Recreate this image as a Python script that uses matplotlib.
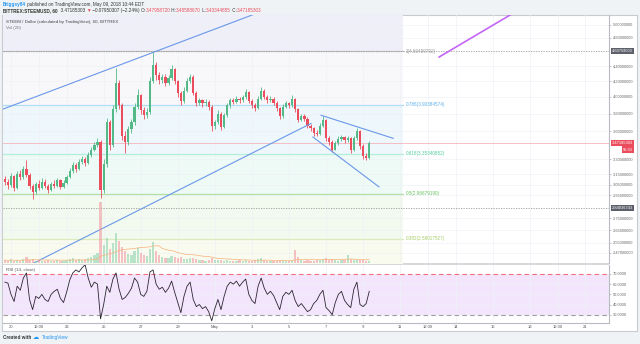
import numpy as np
import pandas as pd
import matplotlib
matplotlib.use("Agg")
import matplotlib.pyplot as plt
import matplotlib.dates as mdates
import matplotlib.transforms as mtransforms
from matplotlib.patches import Rectangle
from matplotlib.ticker import FixedLocator, FuncFormatter, NullLocator

plt.rcParams['font.family'] = ['Liberation Sans', 'DejaVu Sans']

start = '2018-04-19 16:00'
first_open = 3.10
closes = [3.08, 3.05, 3.13, 3.02, 3.15, 3.12, 3.20, 3.14, 3.04, 2.98,
          3.06, 3.02, 3.08, 3.04, 3.00, 3.06, 3.04, 3.09, 3.03, 3.07,
          3.12, 3.18, 3.24, 3.20, 3.27, 3.30, 3.26, 3.34, 3.40, 3.45,
          3.48, 3.00, 3.25, 3.70, 3.45, 3.85, 4.18, 3.90, 3.55, 3.48,
          3.62, 3.70, 3.88, 4.02, 3.84, 3.78, 3.82, 4.20, 4.42, 4.28,
          4.22, 4.26, 4.18, 4.24, 4.36, 4.20, 4.05, 3.95, 4.08, 4.20,
          4.26, 4.05, 3.93, 3.96, 3.92, 3.94, 3.88, 3.66, 3.70, 3.80,
          3.64, 3.78, 3.90, 3.96, 3.94, 3.98, 3.96, 4.00, 4.06, 3.95,
          3.90, 3.87, 3.98, 4.08, 4.00, 3.96, 3.98, 3.93, 3.86, 3.77,
          3.88, 3.92, 3.90, 3.97, 3.85, 3.73, 3.77, 3.74, 3.66, 3.63,
          3.58, 3.57, 3.66, 3.73, 3.52, 3.48, 3.40, 3.47, 3.51, 3.53,
          3.50, 3.52, 3.39, 3.52, 3.60, 3.44, 3.33, 3.31, 3.47185303]
highs = [3.13, 3.10, 3.16, 3.14, 3.18, 3.19, 3.23, 3.29, 3.16, 3.06,
         3.08, 3.09, 3.11, 3.10, 3.06, 3.08, 3.09, 3.11, 3.10, 3.09,
         3.14, 3.21, 3.27, 3.26, 3.30, 3.33, 3.32, 3.37, 3.43, 3.48,
         3.52, 3.50, 3.30, 3.75, 3.72, 3.90, 4.38, 4.22, 3.93, 3.60,
         3.66, 3.74, 3.92, 4.10, 4.04, 3.88, 3.86, 4.25, 4.60, 4.46,
         4.32, 4.30, 4.29, 4.28, 4.42, 4.38, 4.22, 4.08, 4.12, 4.24,
         4.30, 4.28, 4.07, 3.99, 3.98, 3.97, 3.96, 3.90, 3.73, 3.84,
         3.82, 3.81, 3.93, 3.99, 3.99, 4.01, 4.00, 4.03, 4.10, 4.07,
         3.97, 3.92, 4.01, 4.12, 4.10, 4.02, 4.01, 4.00, 3.95, 3.88,
         3.91, 3.95, 3.94, 4.02, 3.99, 3.87, 3.80, 3.79, 3.76, 3.68,
         3.65, 3.61, 3.69, 3.77, 3.74, 3.54, 3.50, 3.49, 3.54, 3.56,
         3.55, 3.55, 3.53, 3.55, 3.63, 3.61, 3.46, 3.36, 3.49]
lows = [3.05, 3.01, 3.03, 2.99, 3.01, 3.09, 3.10, 3.12, 3.01, 2.92,
        2.96, 3.00, 3.01, 3.02, 2.97, 2.99, 3.02, 3.03, 3.01, 3.02,
        3.06, 3.11, 3.16, 3.17, 3.19, 3.25, 3.23, 3.25, 3.32, 3.38,
        3.43, 2.93, 2.97, 3.22, 3.40, 3.43, 3.82, 3.85, 3.50, 3.36,
        3.45, 3.58, 3.67, 3.85, 3.80, 3.74, 3.75, 3.80, 4.17, 4.22,
        4.16, 4.18, 4.14, 4.15, 4.22, 4.16, 4.00, 3.90, 3.93, 4.06,
        4.17, 4.02, 3.89, 3.90, 3.88, 3.89, 3.84, 3.60, 3.62, 3.68,
        3.61, 3.63, 3.76, 3.87, 3.91, 3.92, 3.93, 3.94, 3.98, 3.92,
        3.87, 3.83, 3.85, 3.96, 3.97, 3.93, 3.94, 3.90, 3.83, 3.74,
        3.75, 3.86, 3.87, 3.88, 3.82, 3.70, 3.71, 3.71, 3.63, 3.60,
        3.55, 3.54, 3.56, 3.64, 3.49, 3.45, 3.37, 3.39, 3.45, 3.49,
        3.47, 3.48, 3.36, 3.38, 3.50, 3.41, 3.30, 3.29, 3.30]
volumes = [3, 2, 4, 2, 3, 2, 4, 6, 3, 4,
           2, 3, 2, 2, 3, 2, 2, 3, 2, 2,
           3, 4, 5, 3, 4, 3, 4, 5, 6, 8,
           10, 61, 18, 25, 14, 20, 30, 22, 16, 12,
           9, 8, 12, 15, 10, 8, 7, 14, 21, 12,
           8, 6, 5, 5, 7, 6, 5, 6, 4, 4,
           5, 5, 4, 3, 3, 2, 3, 5, 3, 3,
           3, 2, 3, 2, 2, 2, 3, 2, 3, 2,
           2, 3, 4, 5, 3, 2, 2, 2, 2, 3,
           2, 2, 2, 3, 13, 6, 3, 2, 3, 2,
           2, 3, 3, 4, 5, 3, 4, 3, 2, 3,
           3, 8, 4, 3, 3, 3, 3, 2, 2]
rsi = [62, 61, 50, 43, 58, 54, 66, 71, 45, 35,
       48, 46, 50, 45, 43, 50, 53, 55, 46, 42,
       52, 64, 71, 74, 72, 76, 79, 66, 57, 62,
       60, 26, 40, 58, 52, 65, 71, 55, 45, 47,
       51, 56, 66, 62, 50, 48, 53, 72, 74, 60,
       55, 57, 52, 56, 63, 52, 42, 32, 48, 58,
       62, 45, 38, 40, 36, 38, 33, 24, 36, 45,
       35, 48, 58, 62, 60, 63, 58, 62, 65, 50,
       44, 41, 58, 66, 56, 50, 53, 49, 42, 35,
       48, 52, 50, 54, 44, 38, 41, 37, 33, 35,
       41, 44, 50, 54, 37, 34, 30, 42, 50, 53,
       44, 40, 37, 55, 62, 40, 38, 41, 53]

# header values
last_price = 3.47185303
change = -0.07950307
change_pct = -2.24
ohlc = [3.47958720, 3.48588670, 3.43344855, 3.47185303]

# fibonacci retracement
fib_ratios = ['1.618', '1', '0.786', '0.618', '0.5', '0.382', '0.236']
fib_prices = [6.62982056, 4.60499792, 3.90384574, 3.35340852, 2.96679190, 2.58017527, 2.10181912]
fib_fills = ['#efeff9', '#f8f8fa', '#eef7fc', '#eefaf6', '#f2f9ef', '#f9fbef']
fib_lines = ['#9090e0', '#c4c4c4', '#b3ddf7', '#b2eed8', '#b0e2a6', '#dbebbb', '#f0a0a0']
fib_text = ['#7070d0', '#9a9a9a', '#5cb0ea', '#4fcf9f', '#66c45e', '#a6cd66', '#e07070']
fib_end = '2018-05-11 03:30'

# drawn trend lines: (start date, start price, end date, end price)
trend_lines = [
    ('2018-04-19 13:00', 3.85, '2018-05-03 02:00', 5.16),
    ('2018-04-21 04:00', 2.39, '2018-05-06 04:30', 3.685),
    ('2018-05-06 17:30', 3.78, '2018-05-10 15:00', 3.52),
    ('2018-05-06 07:00', 3.534, '2018-05-09 20:30', 3.03),
]
purple_line = ('2018-05-13 02:30', 4.525, '2018-05-16 23:30', 5.16)

hlines = [4.60759503, 2.84036743]

price_ticks = [5.0, 4.8, 4.4, 4.2, 4.0, 3.8, 3.6, 3.3, 3.15, 3.05, 2.95, 2.75, 2.65, 2.55, 2.47]
rsi_ticks = [70, 60, 50, 40, 30]
tick_dates = ['2018-04-20 00:00', '2018-04-21 12:00', '2018-04-23 00:00', '2018-04-25 00:00',
              '2018-04-27 00:00', '2018-04-29 00:00', '2018-05-01 00:00', '2018-05-03 00:00',
              '2018-05-05 00:00', '2018-05-07 00:00', '2018-05-09 00:00', '2018-05-11 00:00',
              '2018-05-12 12:00', '2018-05-14 00:00', '2018-05-16 00:00', '2018-05-18 00:00',
              '2018-05-19 12:00', '2018-05-21 00:00']
tick_labels = ['20', '12:00', '23', '25', '27', '29', 'May', '3', '5', '7', '9', '11',
               '12:00', '14', '16', '18', '12:00', '21']

GREEN, RED = '#53b987', '#eb4d5c'
W, H = 640, 344

fig = plt.figure(figsize=(W / 100, H / 100), dpi=100, facecolor='#f0f3f6')


def fx(x):
    return x / W


def fy(y):
    return 1 - y / H


def dnum(s):
    return mdates.date2num(pd.to_datetime(s, format='%Y-%m-%d %H:%M'))


# white card
fig.patches.append(Rectangle((fx(2), fy(331)), fx(637) - fx(2), fy(15) - fy(331),
                             transform=fig.transFigure, fc='white', ec='#c9cbd0',
                             lw=0.8, zorder=-2))
fig.patches.append(Rectangle((fx(3), fy(265)), fx(609) - fx(3), fy(263) - fy(265),
                             transform=fig.transFigure, fc='#d6d8dc', ec='none', zorder=-1))

ax = fig.add_axes([fx(3), fy(263), fx(609) - fx(3), fy(15) - fy(263)])
ax_rsi = fig.add_axes([fx(3), fy(323), fx(609) - fx(3), fy(265) - fy(323)], sharex=ax)

t = mdates.date2num(pd.date_range(start, periods=len(closes), freq='4h'))
c = np.array(closes)
o = np.r_[first_open, c[:-1]]
up = c >= o
col = np.where(up, GREEN, RED)

day0 = dnum('2018-04-20 00:00')
xlim = (day0 - 0.4317, day0 + 32.27)

# fib fills and lines
fx0, fx1 = xlim[0], dnum(fib_end)
for i in range(len(fib_fills)):
    ax.fill_between([fx0, fx1], fib_prices[i + 1], fib_prices[i], color=fib_fills[i],
                    lw=0, zorder=0.2)
for r, p, lc, tc in zip(fib_ratios, fib_prices, fib_lines, fib_text):
    ax.plot([fx0, fx1], [p, p], color=lc, lw=0.9, zorder=1)
    ax.annotate(f'{r}({p:.8f})', xy=(fx1, p), xytext=(2.2, 0), textcoords='offset points',
                ha='left', va='center', color=tc, fontsize=3.3)

for p in hlines:
    ax.axhline(p, color='#9b9b9b', lw=0.6, ls=(0, (1.5, 1.5)), zorder=1.5)
ax.axhline(last_price, color='#f5b5bb', lw=0.6, zorder=1.5)

# candles
ax.vlines(t, lows, highs, colors=col, lw=0.6, zorder=3)
ax.bar(t, np.maximum(np.abs(c - o), 0.004), bottom=np.minimum(o, c), width=0.12,
       color=col, zorder=4)

for d0, p0, d1, p1 in trend_lines:
    ax.plot([dnum(d0), dnum(d1)], [p0, p1], color='#6a98e8', lw=0.8, zorder=5)
d0, p0, d1, p1 = purple_line
ax.plot([dnum(d0), dnum(d1)], [p0, p1], color='#c466f5', lw=1.2, zorder=5)

ax.set_yscale('log')
ax.set_ylim(2.3946, 5.152)
ax.set_xlim(*xlim)

# volume overlay
axv = ax.twinx()
axv.bar(t, volumes, width=0.12, color=np.where(up, '#8fd3b1', '#f19aa3'), alpha=0.6, zorder=2)
axv.plot(t, pd.Series(volumes).rolling(20, min_periods=1).mean(), color='#f7b07a', lw=0.5)
axv.set_ylim(0, 248)
axv.axis('off')

ax.yaxis.tick_right()
ax.yaxis.set_major_locator(FixedLocator(price_ticks))
ax.yaxis.set_minor_locator(NullLocator())
ax.yaxis.set_major_formatter(FuncFormatter(lambda v, pos: f'{v:.8f}'))
ax.yaxis.set_minor_formatter(FuncFormatter(lambda v, pos: ''))
ax.tick_params(axis='y', which='both', length=1.5, width=0.4, color='#9a9a9a',
               labelsize=2.9, labelcolor='#6a6a6a', pad=1)
ax.tick_params(axis='x', labelbottom=False, length=0)
ax.grid(True, color='#eef1f5', lw=0.5)
ax.set_axisbelow(True)
ax.patch.set_alpha(0)
for s in ['top', 'left', 'bottom']:
    ax.spines[s].set_visible(False)
ax.spines['right'].set_color('#b8bbc2')
ax.spines['right'].set_linewidth(0.8)

# price markers on the axis
trans = mtransforms.blended_transform_factory(ax.transAxes, ax.transData)
for p, fc in [(hlines[0], '#5d606b'), (last_price, RED), (hlines[1], '#5d606b')]:
    ax.text(1.005, p, f'{p:.8f}', transform=trans, ha='left', va='center', fontsize=2.9,
            color='white', clip_on=False, zorder=10,
            bbox=dict(boxstyle='square,pad=0.3', fc=fc, ec='none'))
ax.annotate('55:30', xy=(1, last_price), xycoords=trans, xytext=(17.3, -5.0),
            textcoords='offset points', ha='right', va='center', fontsize=2.9, color='white',
            annotation_clip=False, zorder=10,
            bbox=dict(boxstyle='square,pad=0.3', fc=RED, ec='none'))

# RSI panel
ax_rsi.axhspan(30, 70, color='#f3e6fc', lw=0, zorder=0.2)
ax_rsi.axhline(70, color='#f26d7d', lw=0.8, ls=(0, (4, 3)), zorder=1)
ax_rsi.axhline(30, color='#9e9e9e', lw=0.8, ls=(0, (4, 3)), zorder=1)
ax_rsi.plot(t, rsi, color='#2d2433', lw=0.6, zorder=3)
ax_rsi.set_ylim(21.9, 78.8)
ax_rsi.yaxis.tick_right()
ax_rsi.set_yticks(rsi_ticks)
ax_rsi.yaxis.set_major_formatter(FuncFormatter(lambda v, pos: f'{v:.4f}'))
ax_rsi.tick_params(axis='y', length=1.5, width=0.4, color='#9a9a9a', labelsize=2.9,
                   labelcolor='#6a6a6a', pad=1)
ax_rsi.set_xticks([dnum(s) for s in tick_dates])
ax_rsi.set_xticklabels(tick_labels)
ax_rsi.tick_params(axis='x', length=0, labelsize=3, labelcolor='#555555', pad=1.6)
ax_rsi.grid(True, color='#eef1f5', lw=0.5)
ax_rsi.set_axisbelow(True)
for s in ['top', 'left']:
    ax_rsi.spines[s].set_visible(False)
for s in ['right', 'bottom']:
    ax_rsi.spines[s].set_color('#b8bbc2')
    ax_rsi.spines[s].set_linewidth(0.8)
ax.set_xlim(*xlim)

# texts in pixel space
ov = fig.add_axes([0, 0, 1, 1])
ov.set_xlim(0, W)
ov.set_ylim(H, 0)
ov.axis('off')


def write_parts(x, y, parts, size):
    txt, color, weight = parts[0]
    t_ = ov.text(x, y, txt, color=color, fontsize=size, fontweight=weight, ha='left', va='center')
    for txt, color, weight in parts[1:]:
        t_ = ov.annotate(txt, xy=(1, 0), xycoords=t_, ha='left', va='bottom', color=color,
                         fontsize=size, fontweight=weight)


DARK = '#333333'
write_parts(3, 4.5, [('Briggsy84', '#2196f3', 'bold'),
                     (' published on TradingView.com, May 09, 2018 10:44 EDT', DARK, 'normal')], 3.3)
sign = '\u2212' if change < 0 else '+'
write_parts(3, 10.5, [('BITTREX:STEEMUSD, 60', DARK, 'bold'),
                      (f'  {last_price:.8f} ', DARK, 'normal'),
                      ('\u25bc', RED, 'normal'),
                      (f' {sign}{abs(change):.8f} ({sign}{abs(change_pct):.2f}%) ', DARK, 'normal'),
                      ('O:', DARK, 'normal'), (f'{ohlc[0]:.8f}', RED, 'normal'),
                      (' H:', DARK, 'normal'), (f'{ohlc[1]:.8f}', RED, 'normal'),
                      (' L:', DARK, 'normal'), (f'{ohlc[2]:.8f}', RED, 'normal'),
                      (' C:', DARK, 'normal'), (f'{ohlc[3]:.8f}', RED, 'normal')], 3.3)

ov.text(6, 22, 'STEEM / Dollar (calculated by TradingView), 60, BITTREX', color='#444444',
        fontsize=3.2, va='center')
ov.text(6, 28.5, 'Vol (20)', color='#777777', fontsize=3.2, va='center')
ov.text(6, 270, 'RSI (14, close)', color='#555555', fontsize=3.2, va='center')

ov.text(3, 337.5, 'Created with', color='#333333', fontsize=3.3, fontweight='bold', va='center')
ov.text(32.5, 337.5, '\u2601', color='#2196f3', fontsize=4.5, va='center')
ov.text(42, 337.5, 'TradingView', color='#2196f3', fontsize=3.4, va='center')

fig.savefig('out.png', dpi=100, facecolor=fig.get_facecolor())
